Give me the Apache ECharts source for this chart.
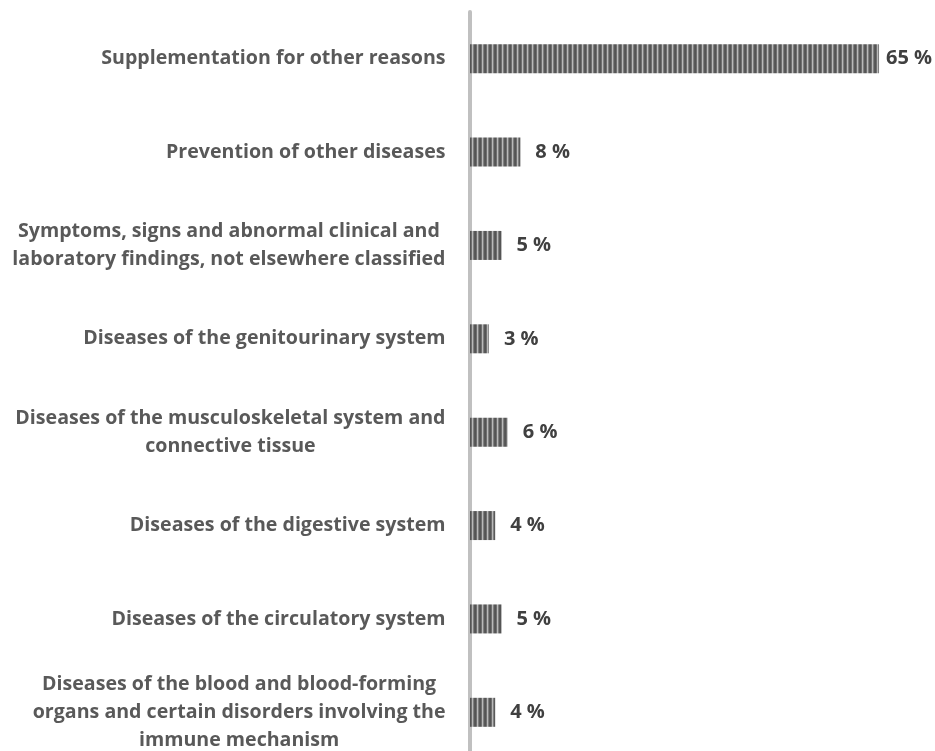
<!DOCTYPE html>
<html>
<head>
<meta charset="utf-8">
<script src="https://cdn.jsdelivr.net/npm/echarts@6/dist/echarts.min.js"></script>
<style>
  html, body { margin: 0; padding: 0; background: #ffffff; }
  #chart { width: 935px; height: 751px; }
</style>
</head>
<body>
<div id="chart"></div>
<script>
// Reasons for use, top to bottom
const categories = [
  'Supplementation for other reasons',
  'Prevention of other diseases',
  'Symptoms, signs and abnormal clinical and\nlaboratory findings, not elsewhere classified',
  'Diseases of the genitourinary system',
  'Diseases of the musculoskeletal system and\nconnective tissue',
  'Diseases of the digestive system',
  'Diseases of the circulatory system',
  'Diseases of the blood and blood-forming\norgans and certain disorders involving the\nimmune mechanism'
];
// Share of users, percent
const shares = [65, 8, 5, 3, 6, 4, 5, 4];

// Vertical stripe fill for the bars
function stripePattern() {
  const c = document.createElement('canvas');
  c.width = 5; c.height = 4;
  const ctx = c.getContext('2d');
  const tones = [84, 112, 186, 128, 90];
  tones.forEach((t, i) => {
    ctx.fillStyle = 'rgb(' + t + ',' + t + ',' + t + ')';
    ctx.fillRect(i, 0, 1, 4);
  });
  return c;
}

const chart = echarts.init(document.getElementById('chart'), null, { renderer: 'canvas' });
const font = '"Open Sans", sans-serif';

chart.setOption({
  animation: false,
  grid: {
    left: 470, top: 12, width: 440.5, height: 747,
    containLabel: false, outerBoundsMode: 'none'
  },
  xAxis: {
    type: 'value', min: 0, max: 70,
    show: false
  },
  yAxis: {
    type: 'category',
    data: categories,
    inverse: true,
    offset: 3.5,
    axisLine: { show: true, lineStyle: { color: '#c0c0c0', width: 4 } },
    axisTick: { show: false },
    axisLabel: {
      margin: 21,
      formatter: v => v.split('\n').map(s => '{c|' + s + '}').join('\n'),
      rich: {
        c: {
          align: 'center',
          fontFamily: font, fontWeight: 'bold', fontSize: 19.6,
          color: '#595959', lineHeight: 28
        }
      }
    }
  },
  series: [{
    type: 'bar',
    data: shares.map((v, i) => i === 0
      ? { value: v, label: { distance: 7 } }
      : v),
    barWidth: 29,
    itemStyle: { color: { image: stripePattern(), repeat: 'repeat' } },
    label: {
      show: true, position: 'right', distance: 15,
      formatter: p => p.value + ' %',
      fontFamily: font, fontWeight: 'bold', fontSize: 20, color: '#404040'
    }
  }]
});
</script>
</body>
</html>
